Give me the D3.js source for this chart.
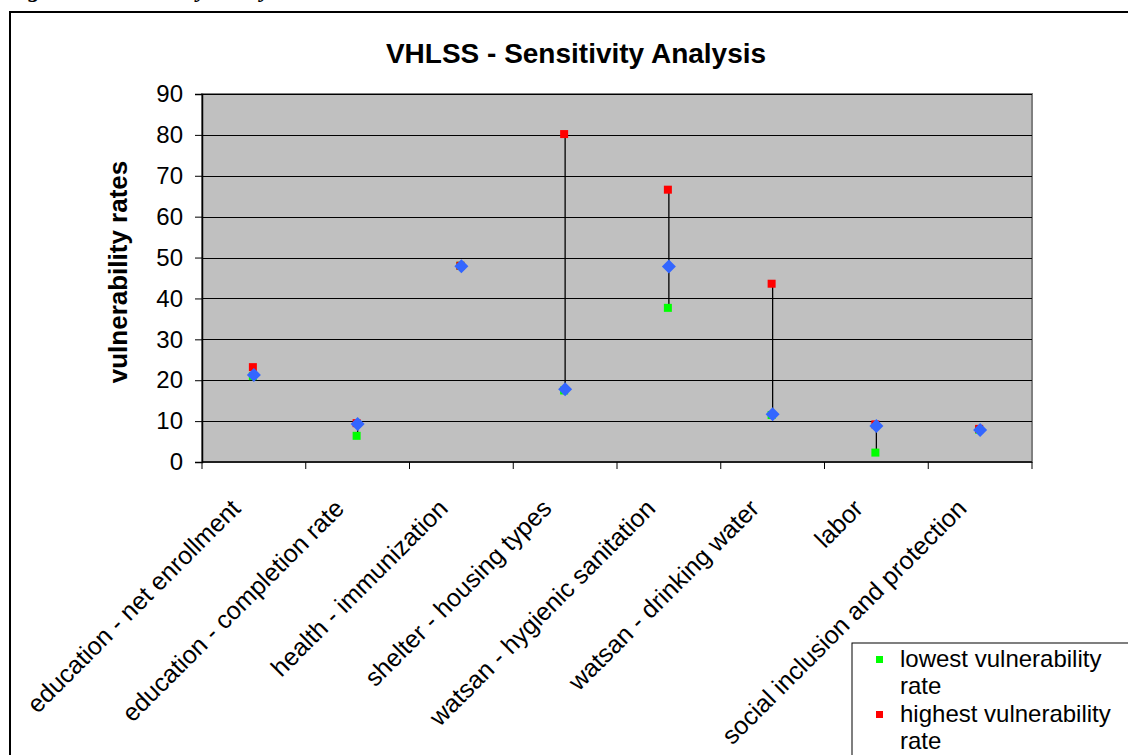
<!DOCTYPE html>
<html>
<head>
<meta charset="utf-8">
<script src="https://cdn.jsdelivr.net/npm/d3@7"></script>
<style>
  html, body { margin: 0; padding: 0; background: #fff; overflow: hidden; }
  svg { display: block; }
  text { font-family: "Liberation Sans", Arial, sans-serif; fill: #000; }
</style>
</head>
<body>
<svg id="chart" width="1128" height="755"></svg>
<script>
// ---- data ----
const categories = [
  "education - net enrollment",
  "education - completion rate",
  "health - immunization",
  "shelter - housing types",
  "watsan - hygienic sanitation",
  "watsan - drinking water",
  "labor",
  "social inclusion and protection"
];
const lowestRate  = [21.0, 6.4, 48.0, 17.5, 37.7, 11.5, 2.3, 7.9];
const highestRate = [23.2, 9.5, 48.0, 80.2, 66.6, 43.6, 9.2, 8.1];
const baseRate    = [21.3, 9.3, 47.9, 17.8, 47.8, 11.7, 8.8, 7.8];
const yTicks = [0, 10, 20, 30, 40, 50, 60, 70, 80, 90];
const legendItems = [
  { lines: ["lowest vulnerability", "rate"], color: "#00FF00" },
  { lines: ["highest vulnerability", "rate"], color: "#FF0000" }
];

// ---- layout ----
const svg = d3.select("#chart");
const plot = { left: 202, right: 1032, top: 94, bottom: 462 };

const x = d3.scaleBand().domain(categories).range([plot.left, plot.right]).padding(0);
const y = d3.scaleLinear().domain([0, 90]).range([plot.bottom, plot.top]);

// clipped caption above the chart frame (only descenders visible, as in the reference)
svg.append("text")
  .attr("x", 6).attr("y", -3)
  .style("font-family", "'Liberation Serif', 'Times New Roman', serif")
  .style("font-weight", "bold").style("font-style", "italic")
  .style("font-size", "24px")
  .text("Figure 6: Sensitivity Analysis");

// chart frame
svg.append("rect")
  .attr("x", 10).attr("y", 12).attr("width", 1140).attr("height", 760)
  .attr("fill", "#fff").attr("stroke", "#000").attr("stroke-width", 2);

// plot area
svg.append("rect")
  .attr("x", plot.left).attr("y", plot.top)
  .attr("width", plot.right - plot.left).attr("height", plot.bottom - plot.top)
  .attr("fill", "#C0C0C0").attr("stroke", "#808080").attr("stroke-width", 2);

// gridlines
svg.append("g").selectAll("line")
  .data(yTicks.filter(d => d > 0))
  .join("line")
  .attr("x1", plot.left).attr("x2", plot.right)
  .attr("y1", d => Math.round(y(d)) + 0.5).attr("y2", d => Math.round(y(d)) + 0.5)
  .attr("stroke", "#000").attr("stroke-width", 1);

// y axis
const yAxis = svg.append("g")
  .attr("transform", `translate(${plot.left},0)`)
  .call(d3.axisLeft(y).tickValues(yTicks).tickSize(7).tickPadding(12));
yAxis.select(".domain").attr("stroke", "#000").attr("stroke-width", 1.5);
yAxis.selectAll(".tick line").attr("stroke", "#000");
yAxis.selectAll(".tick text")
  .style("font-family", "'Liberation Sans', Arial, sans-serif")
  .style("font-size", "24px").attr("fill", "#000");

// x axis (ticks at band boundaries)
const boundaries = categories.map(c => x(c)).concat([plot.right]);
svg.append("line")
  .attr("x1", plot.left).attr("x2", plot.right)
  .attr("y1", plot.bottom).attr("y2", plot.bottom)
  .attr("stroke", "#000").attr("stroke-width", 1.5);
svg.append("g").selectAll("line")
  .data(boundaries)
  .join("line")
  .attr("x1", d => d).attr("x2", d => d)
  .attr("y1", plot.bottom).attr("y2", plot.bottom + 7)
  .attr("stroke", "#000").attr("stroke-width", 1);

// category labels
svg.append("g").selectAll("text")
  .data(categories)
  .join("text")
  .attr("transform", d => `translate(${x(d) + x.bandwidth() / 2 - 12},${plot.bottom + 48}) rotate(-45)`)
  .attr("text-anchor", "end")
  .style("font-size", "25px")
  .text(d => d);

// high-low lines
svg.append("g").selectAll("line")
  .data(categories)
  .join("line")
  .attr("x1", d => x(d) + x.bandwidth() / 2)
  .attr("x2", d => x(d) + x.bandwidth() / 2)
  .attr("y1", (d, i) => y(lowestRate[i]))
  .attr("y2", (d, i) => y(highestRate[i]))
  .attr("stroke", "#000").attr("stroke-width", 1.3);

const sq = 8;
// lowest markers
svg.append("g").selectAll("rect")
  .data(categories)
  .join("rect")
  .attr("x", d => x(d) + x.bandwidth() / 2 - sq / 2 - 1)
  .attr("y", (d, i) => y(lowestRate[i]) - sq / 2)
  .attr("width", sq).attr("height", sq)
  .attr("fill", "#00FF00");
// highest markers
svg.append("g").selectAll("rect")
  .data(categories)
  .join("rect")
  .attr("x", d => x(d) + x.bandwidth() / 2 - sq / 2 - 1)
  .attr("y", (d, i) => y(highestRate[i]) - sq / 2)
  .attr("width", sq).attr("height", sq)
  .attr("fill", "#FF0000");
// base markers (diamonds)
const dsz = 7;
svg.append("g").selectAll("path")
  .data(categories)
  .join("path")
  .attr("d", (d, i) => {
    const cx = x(d) + x.bandwidth() / 2, cy = y(baseRate[i]);
    return `M${cx},${cy - dsz}L${cx + dsz},${cy}L${cx},${cy + dsz}L${cx - dsz},${cy}Z`;
  })
  .attr("fill", "#3366FF");

// title
svg.append("text")
  .attr("x", 576).attr("y", 63)
  .attr("text-anchor", "middle")
  .style("font-weight", "bold").style("font-size", "28px")
  .text("VHLSS - Sensitivity Analysis");

// y-axis label
svg.append("text")
  .attr("transform", `translate(127,${(plot.top + plot.bottom) / 2 - 6}) rotate(-90)`)
  .attr("text-anchor", "middle")
  .style("font-weight", "bold").style("font-size", "26px")
  .text("vulnerability rates");

// legend
const lg = svg.append("g");
lg.append("rect")
  .attr("x", 852).attr("y", 643).attr("width", 300).attr("height", 140)
  .attr("fill", "#fff").attr("stroke", "#000").attr("stroke-width", 1);
legendItems.forEach((it, i) => {
  const top = 667 + i * 55;
  lg.append("rect")
    .attr("x", 876).attr("y", top - 11).attr("width", 7).attr("height", 7)
    .attr("fill", it.color);
  it.lines.forEach((ln, j) => {
    lg.append("text")
      .attr("x", 900).attr("y", top + j * 27)
      .style("font-size", "24px")
      .text(ln);
  });
});
</script>
</body>
</html>
